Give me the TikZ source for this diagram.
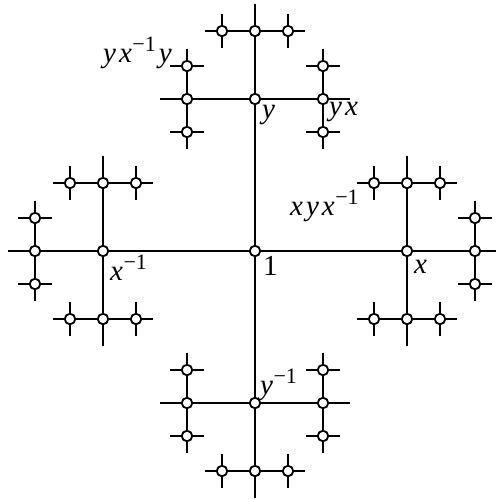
\documentclass[tikz,border=0pt]{standalone}
\usepackage{fontspec}
\setmainfont{Liberation Serif}[ItalicFont={Liberation Serif Italic},UprightFont={Liberation Serif}]
\usetikzlibrary{calc}
\newcommand\supmo{\kern0.5pt\raisebox{11pt}{\fontsize{22}{23}\selectfont\upshape −1}}
\newcommand\lk{\kern3pt}
\begin{document}
\begin{tikzpicture}[x=1pt,y=-1pt,
  vtx/.style={circle,draw,fill=white,inner sep=0pt,minimum size=10.5pt,line width=1.8pt},
  edge/.style={line width=1.5pt},
  lab/.style={anchor=base west,inner sep=0pt,font=\fontsize{29}{32}\selectfont\itshape}]
\useasboundingbox (0,0) rectangle (496,499);
\def\Lone{152}\def\Ltwo{68}\def\Lthree{33}\def\Lfour{17}\def\Lstub{27}
\node[vtx] (r) at (255,251) {};
\foreach \ka in {0,...,3}{
  \node[vtx] (n\ka) at ($(r)+({\Lone*cos(90*\ka)},{-\Lone*sin(90*\ka)})$) {};
  \draw[edge] (r) -- (n\ka);
  \pgfmathtruncatemacro{\oa}{mod(\ka+2,4)}
  \foreach \kb in {0,...,3}{
    \ifnum\kb=\oa\relax\else
      \node[vtx] (n\ka\kb) at ($(n\ka)+({\Ltwo*cos(90*\kb)},{-\Ltwo*sin(90*\kb)})$) {};
      \draw[edge] (n\ka) -- (n\ka\kb);
      \pgfmathtruncatemacro{\ob}{mod(\kb+2,4)}
      \foreach \kc in {0,...,3}{
        \ifnum\kc=\ob\relax\else
          \ifnum\kc=\kb\relax
            \coordinate (s\ka\kb) at ($(n\ka\kb)+({\Lstub*cos(90*\kc)},{-\Lstub*sin(90*\kc)})$);
            \draw[edge] (n\ka\kb) -- (s\ka\kb);
          \else
            \node[vtx] (n\ka\kb\kc) at ($(n\ka\kb)+({\Lthree*cos(90*\kc)},{-\Lthree*sin(90*\kc)})$) {};
            \draw[edge] (n\ka\kb) -- (n\ka\kb\kc);
            \pgfmathtruncatemacro{\oc}{mod(\kc+2,4)}
            \foreach \kd in {0,...,3}{
              \ifnum\kd=\oc\relax\else
                \coordinate (t\ka\kb\kc\kd) at ($(n\ka\kb\kc)+({\Lfour*cos(90*\kd)},{-\Lfour*sin(90*\kd)})$);
                \draw[edge] (n\ka\kb\kc) -- (t\ka\kb\kc\kd);
              \fi
            }
          \fi
        \fi
      }
    \fi
  }
}
% labels
\node[lab] (l1) at (263,275) {\upshape 1};
\node[lab] (lx) at (414,273) {x};
\node[lab] (lxi) at (110,280) {x\supmo};
\node[lab] (ly) at (262,118) {y};
\node[lab] (lyx) at (329,115) {y\lk x};
\node[lab] (lyi) at (260,394) {y\supmo};
\node[lab] (lyxy) at (103,62) {y\lk x\supmo\lk y};
\node[lab] (lxyx) at (290,215) {x\lk y\lk x\supmo};
\end{tikzpicture}
\end{document}
